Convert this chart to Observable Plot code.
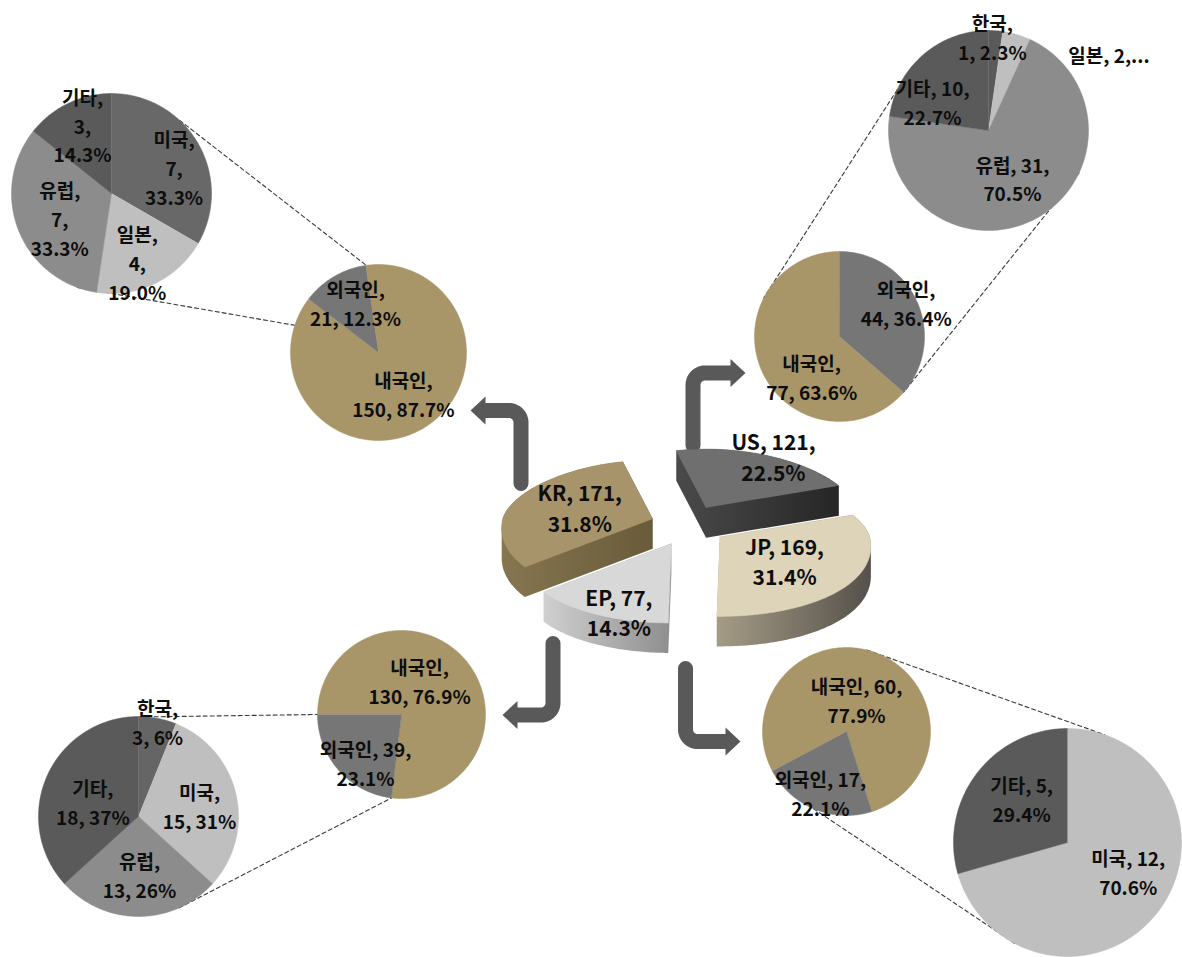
<!DOCTYPE html>
<html><head><meta charset="utf-8">
<script src="https://cdn.jsdelivr.net/npm/d3@7"></script>
<script src="https://cdn.jsdelivr.net/npm/@observablehq/plot@0.6"></script>
<style>html,body{margin:0;padding:0;background:#fff}#chart svg{display:block}</style>
</head><body><div id="chart"></div>
<script>
// ---------------- DATA ----------------
const centerRegions = ["US", "JP", "EP", "KR"];
const centerValues = [121, 169, 77, 171];
const centerPct = ["22.5%", "31.4%", "14.3%", "31.8%"];

const originLabels = ["내국인", "외국인"];
const krOrigin = [150, 21];  const krOriginPct = ["87.7%", "12.3%"];
const usOrigin = [77, 44];   const usOriginPct = ["63.6%", "36.4%"];
const jpOrigin = [130, 39];  const jpOriginPct = ["76.9%", "23.1%"];
const epOrigin = [60, 17];   const epOriginPct = ["77.9%", "22.1%"];

const krForeignLabels = ["미국", "일본", "유럽", "기타"];
const krForeign = [7, 4, 7, 3];     const krForeignPct = ["33.3%", "19.0%", "33.3%", "14.3%"];
const usForeignLabels = ["한국", "일본", "유럽", "기타"];
const usForeign = [1, 2, 31, 10];   const usForeignPct = ["2.3%", "4.5%", "70.5%", "22.7%"];
const jpForeignLabels = ["한국", "미국", "유럽", "기타"];
const jpForeign = [3, 15, 13, 18];  const jpForeignPct = ["6%", "31%", "26%", "37%"];
const epForeignLabels = ["미국", "기타"];
const epForeign = [12, 5];          const epForeignPct = ["70.6%", "29.4%"];

// ---------------- LAYOUT / STYLE ----------------
const W = 1182, H = 957;
const FONT = "'Noto Sans CJK KR', 'Noto Sans', sans-serif";
const TAN = "#a89568", FGRAY = "#767676";
const DARK = "#5a5a5a", MID = "#8c8c8c", LIGHT = "#bfbfbf";

const pies = [
  {id:"krO", labels:originLabels, values:krOrigin, pct:krOriginPct, cx:378, cy:352, r:88, start:-8.3,
   colors:[TAN, FGRAY], lf:[.54,.63], lda:[-1.3,6], fmt:["b","b"]},
  {id:"usO", labels:originLabels, values:usOrigin, pct:usOriginPct, cx:839, cy:336, r:85, start:131,
   colors:[TAN, FGRAY], lf:[.57,.88], lda:[-30.5,-2.5], fmt:["b","b"]},
  {id:"jpO", labels:originLabels, values:jpOrigin, pct:jpOriginPct, cx:401, cy:714, r:84, start:270,
   colors:[TAN, FGRAY], lf:[.46,.71], lda:[-20.5,-11.4], fmt:["b","c"]},
  {id:"epO", labels:originLabels, values:epOrigin, pct:epOriginPct, cx:846, cy:731, r:84, start:242,
   colors:[TAN, FGRAY], lf:[.40,.79], lda:[-4.8,0.9], fmt:["c","c"]},
  {id:"krF", labels:krForeignLabels, values:krForeign, pct:krForeignPct, cx:111, cy:193, r:100, start:0,
   colors:["#686868", LIGHT, MID, DARK], lf:[.68,.73,.57,.75], lda:[7,5,-3.4,3], fmt:["a","a","a","a"]},
  {id:"usF", labels:usForeignLabels, values:usForeign, pct:usForeignPct, cx:988, cy:130, r:100, start:0,
   colors:[DARK, LIGHT, MID, DARK], lf:[.94,1.43,.53,.63], lda:[-1.7,41,1.8,-21.7], fmt:["b","e","c","c"]},
  {id:"jpF", labels:jpForeignLabels, values:jpForeign, pct:jpForeignPct, cx:138, cy:816, r:100, start:0,
   colors:["#656565", LIGHT, MID, DARK], lf:[.97,.62,.58,.48], lda:[0.3,2.7,-1,-5.8], fmt:["b","b","b","b"]},
  {id:"epF", labels:epForeignLabels, values:epForeign, pct:epForeignPct, cx:1067, cy:842, r:114, start:0,
   colors:[LIGHT, DARK], lf:[.59,.56], lda:[-11.6,7], fmt:["c","c"]}
];

// connectors: [pieA, angleA, pieB, angleB]
const connectors = [
  ["krF",43,"krO",352], ["krF",200,"krO",288],
  ["usF",294,"usO",297], ["usF",115,"usO",131],
  ["jpF",5,"jpO",270],   ["jpF",156,"jpO",186.8],
  ["epO",14,"epF",19],   ["epO",203,"epF",207]
];

// 3D centre pie geometry
const P3 = {cx:688, cy:525, R:150, kn:0.39, ks:0.53, ke:0.53, explode:38, depth:30, persp:0.12, start:-13,
  top:{US:"#6f6f6f", JP:"#ddd4b9", EP:"#d8d8d8", KR:"#a8946a"},
  side:{US:"url(#gUS)", JP:"url(#gJP)", EP:"url(#gEP)", KR:"url(#gKR)"},
  lf:{US:1.02, JP:0.5, EP:0.91, KR:0.55}, lda:{US:2, JP:1.7, EP:-6.6, KR:2.3}};

// arrows: vertical start, bend level, tip
const arrows = [
  {x0:520.5, y0:483, yc:410, xt:470},
  {x0:692.5, y0:445, yc:372.5, xt:745},
  {x0:552.5, y0:643, yc:714.5, xt:502},
  {x0:685,   y0:668, yc:741, xt:740}
];

// ---------------- HELPERS ----------------
const rad = d => d * Math.PI / 180;
function fmt(name, value, pct, pattern) {
  if (pattern === "a") return `${name},\n${value},\n${pct}`;
  if (pattern === "b") return `${name},\n${value}, ${pct}`;
  if (pattern === "c") return `${name}, ${value},\n${pct}`;
  return `${name}, ${value},...`;
}
function slices(values, start) {
  const total = d3.sum(values);
  let a = start;
  return values.map((v, i) => { const a0 = a, a1 = a + v / total * 360; a = a1; return {i, a0, a1, mid:(a0 + a1) / 2}; });
}
function polar(cx, cy, r, ang) { const a = rad(ang); return [cx + r * Math.sin(a), cy - r * Math.cos(a)]; }
function arcPts(cx, cy, r, a0, a1) {
  const n = Math.max(2, Math.ceil(Math.abs(a1 - a0)));
  return d3.range(n + 1).map(j => polar(cx, cy, r, a0 + (a1 - a0) * j / n));
}
const pieById = Object.fromEntries(pies.map(p => [p.id, p]));

// flat pies
const sliceRows = [], labelRows = [];
for (const p of pies) {
  slices(p.values, p.start).forEach((s, i) => {
    [[p.cx, p.cy], ...arcPts(p.cx, p.cy, p.r, s.a0, s.a1)]
      .forEach(([x, y]) => sliceRows.push({x, y, key:p.id + i, fill:p.colors[i]}));
    const [lx, ly] = polar(p.cx, p.cy, p.lf[i] * p.r, s.mid + p.lda[i]);
    labelRows.push({x:lx, y:ly, text:fmt(p.labels[i], p.values[i], p.pct[i], p.fmt[i])});
  });
}

// connectors
const connRows = [];
connectors.forEach(([a, aa, b, ba], k) => {
  const A = pieById[a], B = pieById[b];
  [polar(A.cx, A.cy, A.r, aa), polar(B.cx, B.cy, B.r, ba)].forEach(([x, y]) => connRows.push({x, y, key:k}));
});

// 3D pie
function p3(s, ang, fr, dz) {
  const m = rad(s.mid);
  const ox = P3.explode * Math.sin(m), oy = -P3.explode * Math.cos(m) * P3.ke;
  const sn = Math.sin(rad(ang)), c = Math.cos(rad(ang));
  const k = c > 0 ? P3.kn : P3.ks;
  return [P3.cx + ox + fr * P3.R * sn * (1 - P3.persp * c), P3.cy + oy - fr * P3.R * c * k + dz];
}
const c3 = slices(centerValues, P3.start).map(s => ({...s, id:centerRegions[s.i]}));
const c3Marks = [];
const c3Labels = [];
[...c3].sort((a, b) => Math.cos(rad(b.mid)) - Math.cos(rad(a.mid))).forEach(s => {
  const n = Math.ceil(s.a1 - s.a0);
  const angs = d3.range(n + 1).map(j => s.a0 + (s.a1 - s.a0) * j / n);
  const top = [p3(s, 0, 0, 0), ...angs.map(a => p3(s, a, 1, 0))];
  const bottom = top.map(([x, y]) => [x, y + P3.depth]);
  const hull = d3.polygonHull(top.concat(bottom));
  c3Marks.push(Plot.line(hull.map(([x, y]) => ({x, y})), {x:"x", y:"y", fill:P3.side[s.id], stroke:"none"}));
  c3Marks.push(Plot.line(top.map(([x, y]) => ({x, y})), {x:"x", y:"y", fill:P3.top[s.id], stroke:P3.top[s.id], strokeWidth:0.5}));
  const [lx, ly] = p3(s, s.mid + P3.lda[s.id], P3.lf[s.id], 0);
  c3Labels.push({x:lx, y:ly, text:fmt(s.id, centerValues[s.i], centerPct[s.i], "c")});
});

// arrows
const shaftRows = [], headRows = [];
arrows.forEach((a, k) => {
  const dy = Math.sign(a.yc - a.y0), dx = Math.sign(a.xt - a.x0), rr = 12;
  const acx = a.x0 + dx * rr, acy = a.yc - dy * rr;
  const pts = [[a.x0, a.y0]];
  for (let t = 0; t <= 90; t += 5) pts.push([acx - dx * rr * Math.cos(rad(t)), acy + dy * rr * Math.sin(rad(t))]);
  pts.push([a.xt - dx * 13, a.yc]);
  pts.forEach(([x, y]) => shaftRows.push({x, y, key:k}));
  [[a.xt, a.yc], [a.xt - dx * 15, a.yc - 14], [a.xt - dx * 15, a.yc + 14]].forEach(([x, y]) => headRows.push({x, y, key:k}));
});

// ---------------- PLOT ----------------
const chart = Plot.plot({
  width: W, height: H,
  margin: 0,
  x: {domain:[0, W], range:[0, W], axis:null},
  y: {domain:[0, H], range:[0, H], axis:null},
  color: {type:"identity"},
  style: {background:"#fff", overflow:"visible"},
  marks: [
    Plot.line(connRows, {x:"x", y:"y", z:"key", stroke:"#3a3a3a", strokeWidth:1.1, strokeDasharray:"4,3"}),
    Plot.line(sliceRows, {x:"x", y:"y", z:"key", fill:"fill", stroke:"fill", strokeWidth:0.5}),
    Plot.line(shaftRows, {x:"x", y:"y", z:"key", stroke:"#595959", strokeWidth:15, strokeLinejoin:"round"}),
    Plot.line(headRows, {x:"x", y:"y", z:"key", fill:"#595959", stroke:"none"}),
    ...c3Marks,
    Plot.text(labelRows, {x:"x", y:"y", text:"text", fontSize:19, fontWeight:"bold", fontFamily:FONT, lineHeight:1.52, fill:"#0d0d0d"}),
    Plot.text(c3Labels, {x:"x", y:"y", text:"text", fontSize:21, fontWeight:"bold", fontFamily:FONT, lineHeight:1.45, fill:"#0d0d0d"})
  ]
});

// gradients for 3D side walls
const NS = "http://www.w3.org/2000/svg";
const defs = document.createElementNS(NS, "defs");
[["gUS","#4a4a4a","#262626"],["gKR","#867650","#695b3b"],["gJP","#a59c86","#55504a"],["gEP","#d0d0d0","#8e8e8e"]].forEach(([id, c0, c1]) => {
  const g = document.createElementNS(NS, "linearGradient");
  g.setAttribute("id", id); g.setAttribute("x1", "0"); g.setAttribute("x2", "1"); g.setAttribute("y1", "0"); g.setAttribute("y2", "0");
  [[0, c0], [1, c1]].forEach(([o, c]) => { const st = document.createElementNS(NS, "stop"); st.setAttribute("offset", o); st.setAttribute("stop-color", c); g.appendChild(st); });
  defs.appendChild(g);
});
chart.insertBefore(defs, chart.firstChild);
document.getElementById("chart").appendChild(chart);
</script></body></html>
